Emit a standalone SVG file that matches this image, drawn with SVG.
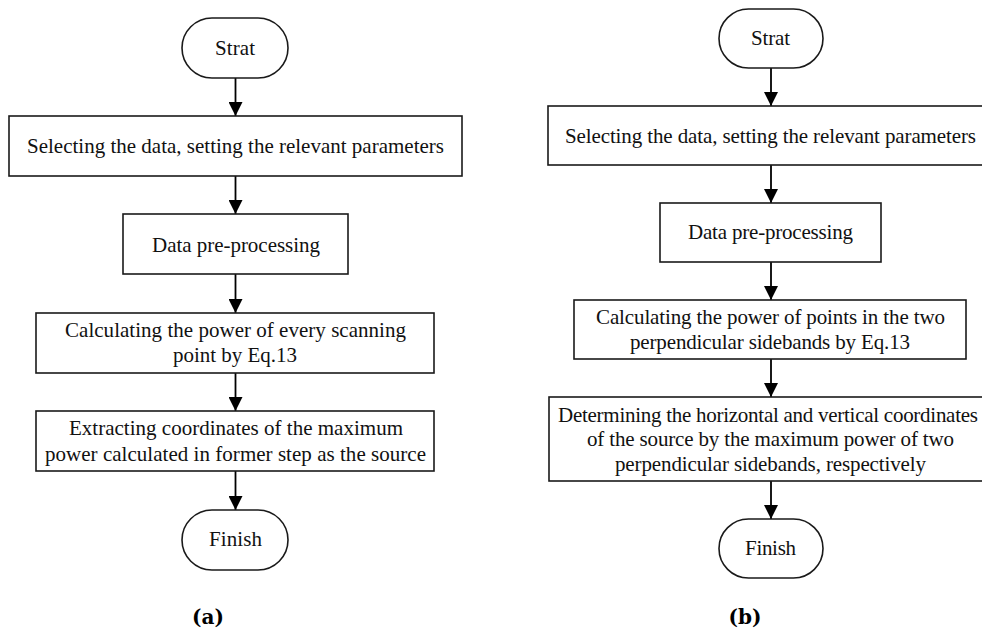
<svg xmlns="http://www.w3.org/2000/svg" width="982" height="629" viewBox="0 0 982 629">
<style>
.n{fill:#fff;stroke:#1a1a1a;stroke-width:1.6}
.t{font-family:"Liberation Serif","Times New Roman",serif;font-size:21px;fill:#111;text-anchor:middle}
.c{stroke:#000;stroke-width:1.8;fill:none}
.lab{font-family:"DejaVu Serif","Liberation Serif",serif;font-size:20px;font-weight:bold;fill:#000;text-anchor:middle}
</style>
<defs>
<marker id="ah" markerUnits="userSpaceOnUse" markerWidth="14" markerHeight="14" viewBox="0 0 14 14" refX="14" refY="7" orient="auto">
<path d="M0,0 L14,7 L0,14 Z" fill="#000"/>
</marker>
</defs>
<rect width="982" height="629" fill="#fff"/>
<g id="connectors">
<line class="c" x1="235.5" y1="78" x2="235.5" y2="116" marker-end="url(#ah)"/>
<line class="c" x1="235.5" y1="176" x2="235.5" y2="214" marker-end="url(#ah)"/>
<line class="c" x1="235.5" y1="274" x2="235.5" y2="313" marker-end="url(#ah)"/>
<line class="c" x1="235.5" y1="373" x2="235.5" y2="411" marker-end="url(#ah)"/>
<line class="c" x1="235.5" y1="471" x2="235.5" y2="510" marker-end="url(#ah)"/>
<line class="c" x1="771" y1="68" x2="771" y2="106" marker-end="url(#ah)"/>
<line class="c" x1="771" y1="165" x2="771" y2="203" marker-end="url(#ah)"/>
<line class="c" x1="771" y1="262" x2="771" y2="300" marker-end="url(#ah)"/>
<line class="c" x1="771" y1="359" x2="771" y2="397" marker-end="url(#ah)"/>
<line class="c" x1="771" y1="481" x2="771" y2="519" marker-end="url(#ah)"/>
</g>
<g id="a-start"><rect class="n" x="182" y="18" width="106" height="60" rx="30" ry="30"/><text class="t" x="235" y="55" textLength="40">Strat</text></g>
<g id="a-select"><rect class="n" x="9" y="116" width="453" height="60"/><text class="t" x="235.5" y="153" textLength="417">Selecting the data, setting the relevant parameters</text></g>
<g id="a-pre"><rect class="n" x="123" y="214" width="225" height="60"/><text class="t" x="236" y="252" textLength="168">Data pre-processing</text></g>
<g id="a-calc"><rect class="n" x="36" y="313" width="398" height="60"/><text class="t" x="235.5" y="337" textLength="341">Calculating the power of every scanning</text><text class="t" x="235" y="362" textLength="124">point by Eq.13</text></g>
<g id="a-extract"><rect class="n" x="36" y="411" width="398" height="60"/><text class="t" x="236" y="435" textLength="334">Extracting coordinates of the maximum</text><text class="t" x="235.5" y="461" textLength="381">power calculated in former step as the source</text></g>
<g id="a-finish"><rect class="n" x="182" y="510" width="106" height="60" rx="30" ry="30"/><text class="t" x="235.5" y="546" textLength="53">Finish</text></g>
<g id="b-start"><rect class="n" x="719" y="9" width="104" height="59" rx="29.5" ry="29.5"/><text class="t" x="770.5" y="45" textLength="39">Strat</text></g>
<g id="b-select"><rect class="n" x="548" y="106" width="445" height="59"/><text class="t" x="770.5" y="143" textLength="411">Selecting the data, setting the relevant parameters</text></g>
<g id="b-pre"><rect class="n" x="660" y="203" width="221" height="59"/><text class="t" x="770.5" y="239" textLength="165">Data pre-processing</text></g>
<g id="b-calc"><rect class="n" x="574" y="300" width="392" height="59"/><text class="t" x="770.5" y="324" textLength="349">Calculating the power of points in the two</text><text class="t" x="770" y="349" textLength="280">perpendicular sidebands by Eq.13</text></g>
<g id="b-determine"><rect class="n" x="549" y="397" width="445" height="84"/><text class="t" x="768" y="422" textLength="420">Determining the horizontal and vertical coordinates</text><text class="t" x="770.5" y="446" textLength="367">of the source by the maximum power of two</text><text class="t" x="770.5" y="471" textLength="311">perpendicular sidebands, respectively</text></g>
<g id="b-finish"><rect class="n" x="719" y="519" width="104" height="59" rx="29.5" ry="29.5"/><text class="t" x="770.5" y="555" textLength="51">Finish</text></g>
<text class="lab" x="208" y="624">(a)</text>
<text class="lab" x="745" y="624">(b)</text>
</svg>
